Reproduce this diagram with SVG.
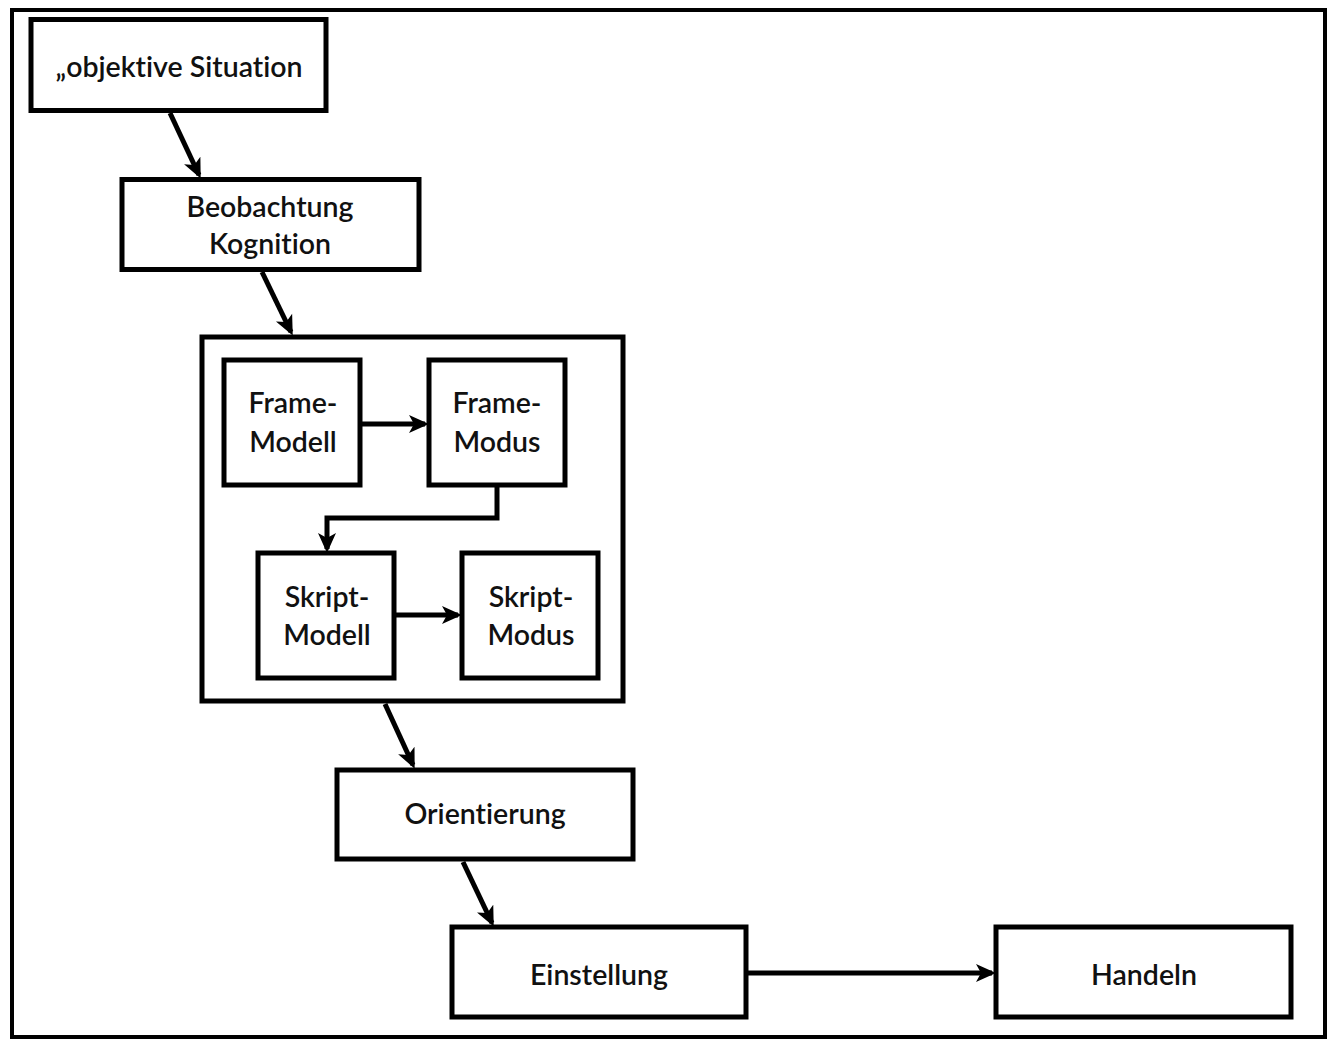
<svg xmlns="http://www.w3.org/2000/svg" width="1331" height="1041" viewBox="0 0 1331 1041">
<style>
.box{fill:#fff;stroke:#000;stroke-width:5}
.frame{fill:none;stroke:#000;stroke-width:4}
.lbl{font-family:Lato,"Open Sans",sans-serif;font-size:28.5px;font-weight:600;fill:#111;text-anchor:middle;font-variant-ligatures:none}
.con{fill:none;stroke:#000;stroke-width:5;marker-end:url(#ah)}
</style>
<defs>
<marker id="ah" viewBox="0 0 10 10" refX="8" refY="5" markerWidth="4" markerHeight="4" orient="auto" markerUnits="strokeWidth">
<path d="M0,0.5 L10,5 L0,9.5 L2.5,5 Z" fill="#000"/>
</marker>
</defs>
<rect width="1331" height="1041" fill="#fff"/>
<rect class="frame" x="12" y="10" width="1313" height="1027"/>
<g id="objektive">
<rect class="box" x="31" y="19.5" width="295" height="91"/>
<text class="lbl" x="179" y="77">„objektive Situation</text>
</g>
<g id="beobachtung">
<rect class="box" x="122" y="179.5" width="297" height="90"/>
<text class="lbl" x="270" y="217">Beobachtung</text>
<text class="lbl" x="270" y="254">Kognition</text>
</g>
<g id="container">
<rect class="box" x="202" y="337" width="421" height="364"/>
</g>
<g id="frame-modell">
<rect class="box" x="224" y="360" width="136" height="125"/>
<text class="lbl" x="293" y="413">Frame-</text>
<text class="lbl" x="293" y="452">Modell</text>
</g>
<g id="frame-modus">
<rect class="box" x="429" y="360" width="136" height="125"/>
<text class="lbl" x="497" y="413">Frame-</text>
<text class="lbl" x="497" y="452">Modus</text>
</g>
<g id="skript-modell">
<rect class="box" x="258" y="553" width="136" height="125"/>
<text class="lbl" x="327" y="607">Skript-</text>
<text class="lbl" x="327" y="645">Modell</text>
</g>
<g id="skript-modus">
<rect class="box" x="462" y="553" width="136" height="125"/>
<text class="lbl" x="531" y="607">Skript-</text>
<text class="lbl" x="531" y="645">Modus</text>
</g>
<g id="orientierung">
<rect class="box" x="337" y="770" width="296" height="89"/>
<text class="lbl" x="485" y="824">Orientierung</text>
</g>
<g id="einstellung">
<rect class="box" x="452" y="927" width="294" height="90"/>
<text class="lbl" x="599" y="985">Einstellung</text>
</g>
<g id="handeln">
<rect class="box" x="996" y="927" width="295" height="90"/>
<text class="lbl" x="1144" y="985">Handeln</text>
</g>
<g id="connectors">
<line class="con" x1="170" y1="113" x2="199" y2="175"/>
<line class="con" x1="262" y1="272" x2="291" y2="332"/>
<line class="con" x1="385" y1="704" x2="413" y2="765"/>
<line class="con" x1="463" y1="862" x2="492" y2="923"/>
<line class="con" x1="748" y1="973" x2="992" y2="973"/>
<line class="con" x1="362" y1="424" x2="425" y2="424"/>
<polyline class="con" points="497,487 497,518 327,518 327,549"/>
<line class="con" x1="396" y1="615" x2="458" y2="615"/>
</g>
</svg>
